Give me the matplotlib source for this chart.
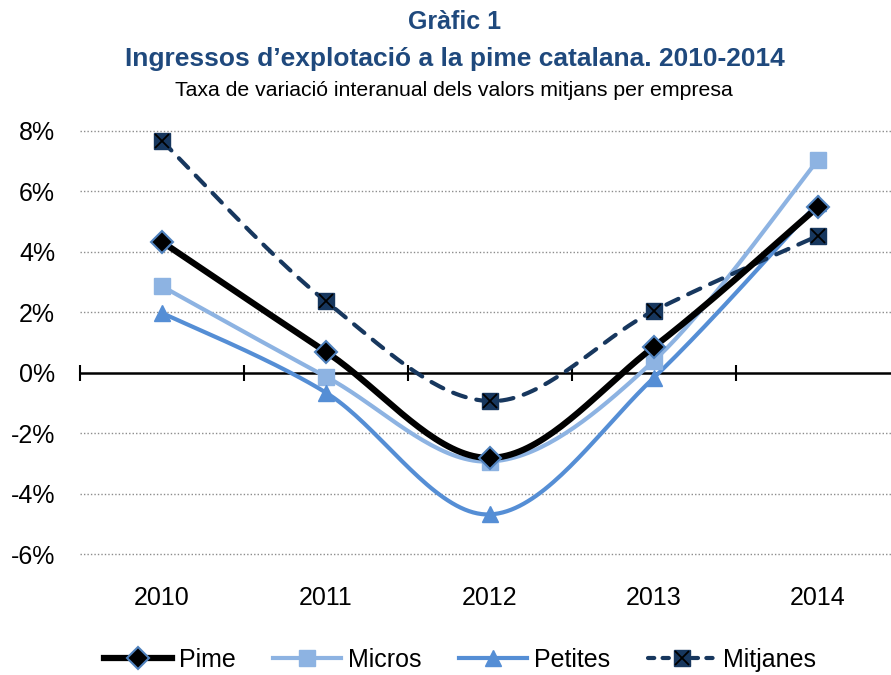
import numpy as np
import matplotlib
matplotlib.use("Agg")
import matplotlib.pyplot as plt
from matplotlib.lines import Line2D
from matplotlib.legend_handler import HandlerTuple
import matplotlib.transforms as mtrans

years = ["2010", "2011", "2012", "2013", "2014"]
pime = [4.33, 0.69, -2.82, 0.86, 5.49]
micros = [2.86, -0.13, -2.94, 0.40, 7.04]
petites = [1.98, -0.66, -4.69, -0.16, 5.62]
mitjanes = [7.67, 2.36, -0.94, 2.05, 4.53]
yticks = [-6, -4, -2, 0, 2, 4, 6, 8]

plt.rcParams['font.family'] = ['Liberation Sans', 'DejaVu Sans']

def smooth(xs, ys, n=40):
    xs = np.asarray(xs, float); ys = np.asarray(ys, float)
    P = np.column_stack([xs, ys])
    out = []
    m = len(P)
    for i in range(m - 1):
        p0 = P[i - 1] if i > 0 else P[i]
        p1 = P[i]; p2 = P[i + 1]
        p3 = P[i + 2] if i + 2 < m else P[i + 1]
        c1 = p1 + (p2 - p0) / 6.0
        c2 = p2 - (p3 - p1) / 6.0
        t = np.linspace(0, 1, n)[:, None]
        seg = ((1 - t) ** 3) * p1 + 3 * ((1 - t) ** 2) * t * c1 + 3 * (1 - t) * t ** 2 * c2 + t ** 3 * p2
        out.append(seg if i == 0 else seg[1:])
    s = np.vstack(out)
    return s[:, 0], s[:, 1]

W, H = 891, 675
fig = plt.figure(figsize=(W / 100, H / 100), dpi=100)
ax = fig.add_axes([80 / W, (H - 554) / H, 820 / W, 423 / H])

x = np.arange(len(years))
ax.set_xlim(-0.5, len(years) - 0.5)
ax.set_ylim(-6, 8)

for yv in yticks:
    if yv != 0:
        ax.axhline(yv, color='#8c8c8c', lw=1.0, ls=(0, (1, 1.5)), zorder=0, clip_on=False)

c_pime = 'black'
c_micros = '#8DB3E2'
c_petites = '#558ED5'
c_mitj = '#17375E'

sx, sy = smooth(x, micros)
ax.plot(sx, sy, color=c_micros, lw=3.0, solid_capstyle='round', zorder=3)
ax.plot(x, micros, ls='none', marker='s', ms=11, mfc=c_micros, mec=c_micros, zorder=4)

sx, sy = smooth(x, petites)
ax.plot(sx, sy, color=c_petites, lw=3.0, solid_capstyle='round', zorder=3)
ax.plot(x, petites, ls='none', marker='^', ms=12, mfc=c_petites, mec=c_petites, zorder=4)

sx, sy = smooth(x, mitjanes)
ax.plot(sx, sy, color=c_mitj, lw=3.0, ls=(0, (3.2, 2.6)), dash_capstyle='round', zorder=3)
ax.plot(x, mitjanes, ls='none', marker='s', ms=11, mfc=c_mitj, mec=c_mitj, zorder=4)
ax.plot(x, mitjanes, ls='none', marker='x', ms=10, mec='black', mew=1.3, zorder=5)

sx, sy = smooth(x, pime)
ax.plot(sx, sy, color=c_pime, lw=4.5, solid_capstyle='round', zorder=6)
ax.plot(x, pime, ls='none', marker='D', ms=11, mfc='black', mec='#4F81BD', mew=1.5, zorder=7)

for s in ['top', 'right', 'left']:
    ax.spines[s].set_visible(False)
ax.spines['bottom'].set_position(('data', 0))
ax.spines['bottom'].set_linewidth(1.8)
ax.spines['bottom'].set_zorder(2)
ax.set_xticks(np.arange(-0.5, len(years) + 0.5, 1.0))
ax.tick_params(axis='x', direction='inout', length=11, width=1.5, labelbottom=False)
ax.set_yticks(yticks)
ax.set_yticklabels([f"{v}%" for v in yticks])
ax.tick_params(axis='y', length=0, pad=18, labelsize=18)

trans = mtrans.blended_transform_factory(ax.transData, ax.transAxes)
for xi, lab in zip(x, years):
    ax.text(xi, -0.105, lab, transform=trans, ha='center', va='center', fontsize=18)

title_col = '#1F497D'
fig.text(455 / W, 1 - 22 / H, "Gràfic 1", ha='center', va='center', fontsize=18,
         fontweight='bold', color=title_col)
fig.text(455 / W, 1 - 59 / H, "Ingressos d\u2019explotació a la pime catalana. 2010-2014",
         ha='center', va='center', fontsize=19, fontweight='bold', color=title_col)
fig.text(454 / W, 1 - 90 / H, "Taxa de variació interanual dels valors mitjans per empresa",
         ha='center', va='center', fontsize=15.3, color='black')

h_pime = Line2D([], [], color='black', lw=4.5, marker='D', ms=11, mfc='black', mec='#4F81BD', mew=1.5)
h_micros = Line2D([], [], color=c_micros, lw=3.0, marker='s', ms=11, mfc=c_micros, mec=c_micros)
h_petites = Line2D([], [], color=c_petites, lw=3.0, marker='^', ms=12, mfc=c_petites, mec=c_petites)
h_mitj1 = Line2D([], [], color=c_mitj, lw=3.0, ls=(0, (1.5, 2.0)), dash_capstyle='round',
                 marker='s', ms=11, mfc=c_mitj, mec=c_mitj)
h_mitj2 = Line2D([], [], ls='none', marker='x', ms=10, mec='black', mew=1.3)
fig.legend([h_pime, h_micros, h_petites, (h_mitj1, h_mitj2)],
           ["Pime", "Micros", "Petites", "Mitjanes"],
           handler_map={tuple: HandlerTuple(ndivide=1)},
           loc='center', bbox_to_anchor=(460 / W, 1 - 660 / H), ncol=4, frameon=False,
           fontsize=18, handlelength=2.7, handletextpad=0.3, columnspacing=1.5, numpoints=1)

fig.savefig("out.png", dpi=100)
